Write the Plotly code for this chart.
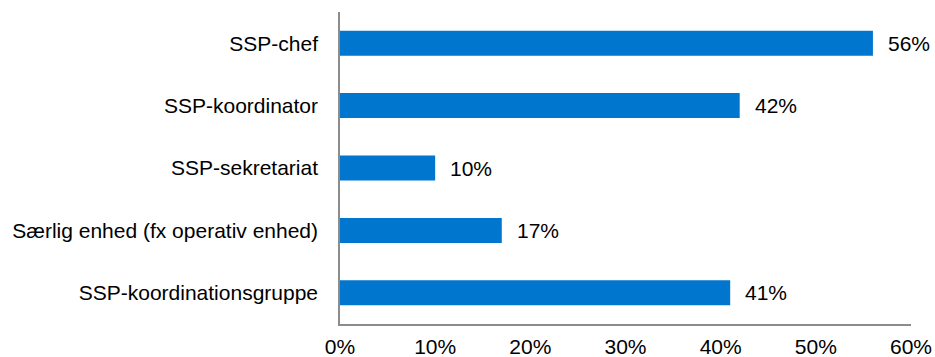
import plotly.graph_objects as go

categories = ["SSP-chef", "SSP-koordinator", "SSP-sekretariat",
              "Særlig enhed (fx operativ enhed)", "SSP-koordinationsgruppe"]
values = [56, 42, 10, 17, 41]
tick_vals = [0, 10, 20, 30, 40, 50, 60]
tick_text = [f"{v}%" for v in tick_vals]

fig = go.Figure()
fig.add_trace(go.Bar(
    y=categories, x=values, orientation="h",
    marker=dict(color="#0076CE", line=dict(width=0)),
    hoverinfo="skip",
))
for c, v in zip(categories, values):
    fig.add_annotation(x=v, y=c, text=f"{v}%", showarrow=False,
                       xanchor="left", xshift=13,
                       font=dict(size=21, color="#000000"))

fig.update_layout(
    width=935, height=357,
    margin=dict(l=340, r=24, t=12, b=33),
    paper_bgcolor="white", plot_bgcolor="white",
    font=dict(family="Liberation Sans, Arial, sans-serif", size=21, color="#000000"),
    bargap=0.6, showlegend=False,
)
fig.update_xaxes(range=[0, 60], tickvals=tick_vals, ticktext=tick_text,
                 showgrid=False, zeroline=False, showline=True, automargin=False,
                 linecolor="#8C8C8C", linewidth=1.5, ticks="", ticklabelstandoff=3)
fig.update_yaxes(autorange="reversed", showgrid=False, showline=True, automargin=False,
                 linecolor="#8C8C8C", linewidth=1.5, ticks="", ticklabelstandoff=16)
fig.write_html("out.html")
